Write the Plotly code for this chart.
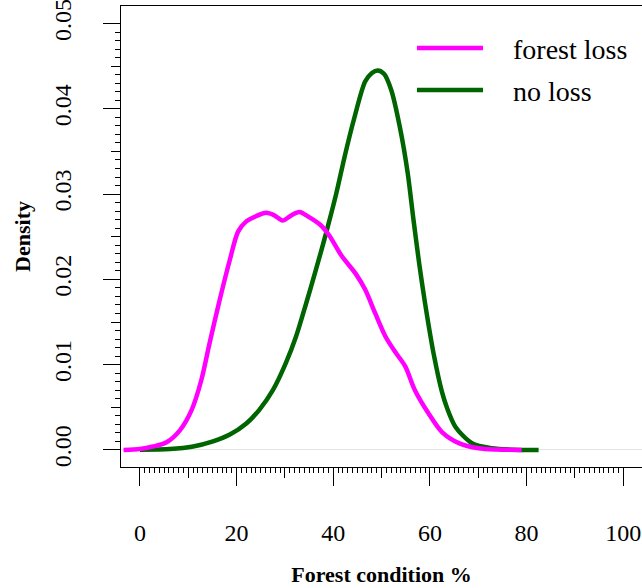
import plotly.graph_objects as go

# ---- data ----
forest_loss_x = [-3.4, 0, 2.7, 5.5, 8.25, 10.7, 12.7, 14.4, 16.5, 18.6, 20.3, 22, 24, 26.1,
                 27.8, 29.5, 31.3, 33, 35, 37.3, 39.1, 41.8, 44.6, 46.6, 48.7, 50.8, 52.8,
                 54.9, 56.9, 59.7, 62.5, 66, 70.1, 74, 79]
forest_loss_y = [0, 0.0001, 0.0004, 0.0009, 0.0023, 0.0047, 0.0082, 0.0125, 0.0176, 0.0223,
                 0.0256, 0.0268, 0.0274, 0.0278, 0.0275, 0.0269, 0.0275, 0.0279, 0.0273,
                 0.0264, 0.0252, 0.0227, 0.0207, 0.0188, 0.0160, 0.0133, 0.0115, 0.0098,
                 0.0070, 0.0043, 0.0021, 0.0008, 0.0002, 0.00005, 0]

no_loss_x = [0, 6.2, 11, 15.1, 18.6, 22, 24.7, 27.5, 30.2, 32.3, 34.4, 36.4, 38.5, 40.6,
             42.4, 44.3, 46.6, 48, 49.2, 50.5, 52, 53.8, 55.4, 56.6, 57.8, 59, 60.8, 62.5,
             63.5, 65.3, 68.7, 72.8, 77, 82.5]
no_loss_y = [0.00002, 0.0001, 0.0004, 0.0010, 0.0018, 0.0031, 0.0047, 0.0070, 0.0102,
             0.0133, 0.0172, 0.0211, 0.0254, 0.0300, 0.0345, 0.0388, 0.0432, 0.0442,
             0.0445, 0.0441, 0.0422, 0.0378, 0.0325, 0.0270, 0.0218, 0.0172, 0.0112,
             0.0068, 0.0050, 0.0027, 0.0008, 0.0002, 0.00003, 0]

series_names = ["forest loss", "no loss"]
series_colors = ["#FF00FF", "#006400"]

x_major = [0, 20, 40, 60, 80, 100]
x_labels = ["0", "20", "40", "60", "80", "100"]
y_major = [0.00, 0.01, 0.02, 0.03, 0.04, 0.05]
y_labels = ["0.00", "0.01", "0.02", "0.03", "0.04", "0.05"]
x_mid = [10, 30, 50, 70, 90]
y_mid = [0.005, 0.015, 0.025, 0.035, 0.045]
x_minor = list(range(0, 101))
y_minor = [i / 1000 for i in range(0, 51)]

FONT = "Liberation Serif"
X_RANGE = [-3.93, 103.9]
Y_RANGE = [-0.002, 0.05205]
W, H = 642, 588
ML, MT, MB = 121, 6, 121
PW, PH = W - ML, H - MT - MB
LW = 4.5

fig = go.Figure()
fig.add_trace(go.Scatter(
    x=no_loss_x, y=no_loss_y, mode="lines", name=series_names[1], showlegend=False,
    line=dict(color=series_colors[1], width=LW, shape="spline", smoothing=0.8)))
fig.add_trace(go.Scatter(
    x=forest_loss_x, y=forest_loss_y, mode="lines", name=series_names[0], showlegend=False,
    line=dict(color=series_colors[0], width=LW, shape="spline", smoothing=0.8)))
# helper (empty) trace so the medium-tick overlay axes render
fig.add_trace(go.Scatter(x=[None], y=[None], xaxis="x2", yaxis="y2",
                         showlegend=False, hoverinfo="skip"))

tickfont = dict(family=FONT, size=24, color="black")
titlefont = dict(family=FONT, size=22, color="black")


def px_x(p):
    return (p - ML) / PW


def px_y(p):
    return (H - MB - p) / PH


# legend (keys + labels) drawn in paper space
shapes = []
annotations = []
for i, (nm, col) in enumerate(zip(series_names, series_colors)):
    yc = 48 + 42 * i
    shapes.append(dict(type="line", xref="paper", yref="paper",
                       x0=px_x(417), x1=px_x(483), y0=px_y(yc), y1=px_y(yc),
                       line=dict(color=col, width=LW)))
    annotations.append(dict(text=nm, xref="paper", yref="paper", x=px_x(511),
                            y=px_y(yc + 1), xanchor="left", yanchor="middle",
                            showarrow=False, font=dict(family=FONT, size=28, color="black")))

fig.update_layout(
    width=W, height=H,
    margin=dict(l=ML, r=0, t=MT, b=MB, autoexpand=False),
    paper_bgcolor="white", plot_bgcolor="white",
    font=dict(family=FONT, color="black"),
    showlegend=False,
    shapes=shapes, annotations=annotations,
    xaxis=dict(
        range=X_RANGE, tickmode="array", tickvals=x_major, ticktext=x_labels,
        ticks="outside", ticklen=18, tickwidth=1, tickcolor="black",
        showline=True, linecolor="black", linewidth=1, mirror=True,
        showgrid=False, zeroline=False, tickfont=tickfont, ticklabelstandoff=26,
        ticklabeloverflow="allow", automargin=False,
        minor=dict(tickmode="array", tickvals=x_minor, ticks="outside", ticklen=5,
                   tickwidth=1, tickcolor="black", showgrid=False),
        title=dict(text="<b>Forest condition %</b>", font=titlefont, standoff=21),
    ),
    xaxis2=dict(
        range=X_RANGE, overlaying="x", anchor="y", side="bottom",
        tickmode="array", tickvals=x_mid, ticks="outside", ticklen=10, tickwidth=1,
        tickcolor="black", showticklabels=False, showline=False, showgrid=False,
        zeroline=False, automargin=False,
    ),
    yaxis=dict(
        range=Y_RANGE, tickmode="array", tickvals=y_major, ticktext=y_labels,
        ticks="outside", ticklen=17, tickwidth=1, tickcolor="black", tickangle=-90,
        showline=True, linecolor="black", linewidth=1,
        showgrid=False, zeroline=True, zerolinecolor="#e3e3e3", zerolinewidth=1,
        tickfont=tickfont, ticklabelstandoff=22, ticklabeloverflow="allow",
        automargin=False,
        minor=dict(tickmode="array", tickvals=y_minor, ticks="outside", ticklen=5,
                   tickwidth=1, tickcolor="black", showgrid=False),
        title=dict(text="<b>Density</b>", font=titlefont, standoff=13),
    ),
    yaxis2=dict(
        range=Y_RANGE, overlaying="y", anchor="x", side="left",
        tickmode="array", tickvals=y_mid, ticks="outside", ticklen=9, tickwidth=1,
        tickcolor="black", showticklabels=False, showline=False, showgrid=False,
        zeroline=False, automargin=False,
    ),
)

# remove the browser's default 8px body margin so the figure sits at the window origin
fig.write_html("out.html",
               config={"displayModeBar": False},
               post_script="document.body.style.margin='0';document.body.style.overflow='hidden';")
